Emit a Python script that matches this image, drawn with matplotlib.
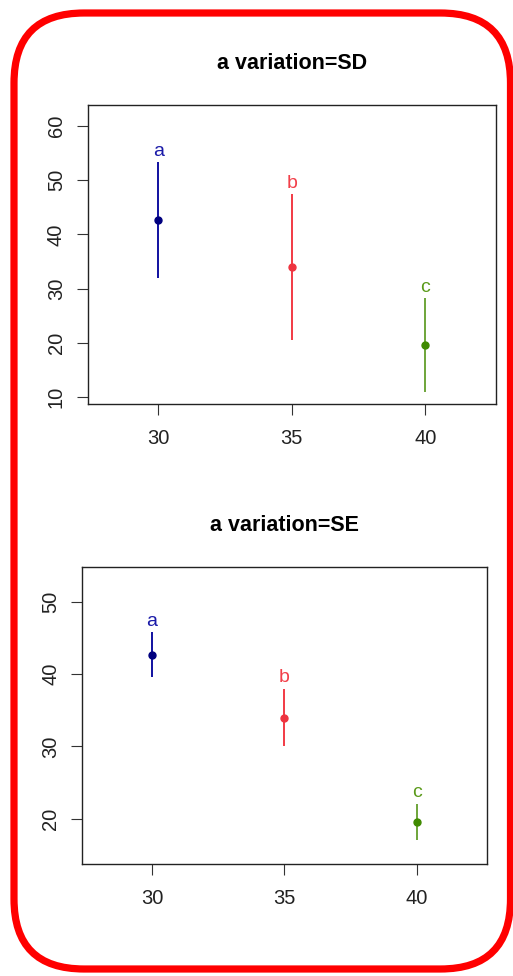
import matplotlib
matplotlib.use("Agg")
import matplotlib.pyplot as plt
from matplotlib.patches import FancyBboxPatch

plt.rcParams['font.family'] = ['Liberation Sans', 'DejaVu Sans']

# data
groups = [30, 35, 40]
letters = ["a", "b", "c"]
means = [42.7, 34.0, 19.6]
sd = [10.7, 13.5, 8.6]
se = [3.05, 3.9, 2.5]
line_colors = ["#1010a0", "#f23a44", "#6ea53a"]
dot_colors = ["#00007f", "#ee3440", "#3f8a00"]
text_colors = ["#1a1aa8", "#f2404a", "#5a9a1a"]

fig = plt.figure(figsize=(5.13, 9.76), dpi=100)

# red rounded frame (pixel coords)
bg = fig.add_axes([0, 0, 1, 1])
bg.set_xlim(0, 513)
bg.set_ylim(0, 976)
bg.axis("off")
frame = FancyBboxPatch((14, 7), 496.5, 956, boxstyle="round,pad=0,rounding_size=70",
                       fill=False, edgecolor="#ff0000", linewidth=5.2)
bg.add_patch(frame)


def panel(rect, err, ylim, yticks, title, gap):
    ax = fig.add_axes(rect)
    for x, m, e, lc, dc, tc, l in zip(groups, means, err, line_colors,
                                       dot_colors, text_colors, letters):
        ax.vlines(x, m - e, m + e, color=lc, linewidth=1.4)
        ax.plot(x, m, "o", color=dc, markersize=5)
        ax.text(x, m + e + gap, l, color=tc, fontsize=14, ha="center", va="bottom")
    ax.set_xlim(27.36, 42.65)
    ax.set_ylim(*ylim)
    ax.set_xticks(groups)
    ax.set_yticks(yticks)
    ax.set_yticklabels([str(t) for t in yticks], rotation=90, va="center")
    ax.tick_params(axis="both", length=8, width=0.8, color="#333333",
                   labelsize=14.5, labelcolor="#222222")
    ax.tick_params(axis="x", pad=10)
    ax.tick_params(axis="y", pad=8)
    for s in ax.spines.values():
        s.set_linewidth(1.0)
        s.set_color("#222222")
    ax.set_title(title, fontsize=15.5, fontweight="bold", pad=26)
    return ax


panel([0.1715, 0.5861, 0.7953, 0.3064], sd, (8.7, 63.9), [10, 20, 30, 40, 50, 60],
      "a variation=SD", 0.4)
panel([0.1604, 0.1148, 0.7883, 0.3046], se, (13.78, 54.83), [20, 30, 40, 50],
      "a variation=SE", 0.4)

fig.savefig("out.png", dpi=100)
